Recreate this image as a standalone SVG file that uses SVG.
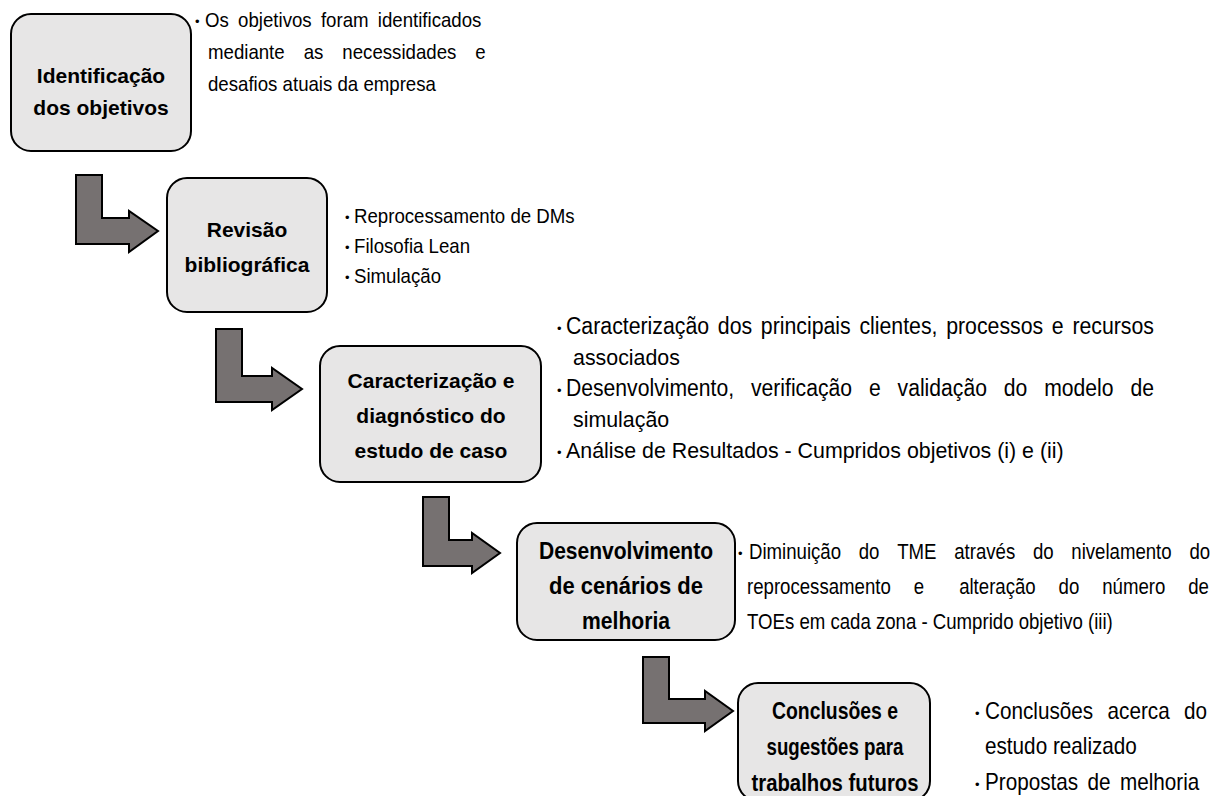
<svg xmlns="http://www.w3.org/2000/svg" width="1215" height="796" viewBox="0 0 1215 796">
  <style>
    .box { fill: #e7e6e6; stroke: #000; stroke-width: 2; }
    .arrow { fill: #767171; stroke: #000; stroke-width: 2; stroke-linejoin: miter; }
    .lbl { font-family: "Liberation Sans", Arial, sans-serif; font-weight: bold; font-size: 21px; text-anchor: middle; fill: #000; }
    .lbln { font-family: "Liberation Sans", Arial, sans-serif; font-weight: bold; font-size: 24px; text-anchor: middle; fill: #000; }
    .t1 { font-family: "Liberation Sans", Arial, sans-serif; font-size: 20.5px; fill: #000; }
    .t3 { font-family: "Liberation Sans", Arial, sans-serif; font-size: 23px; fill: #000; }
    .bul { font-family: "Liberation Sans", Arial, sans-serif; font-size: 13px; fill: #000; }
  </style>

  <!-- step arrows -->
  <g id="connectors">
    <polygon class="arrow" points="76,175 102,175 102,218 129,218 129,211 158,231 129,252 129,244 76,244"/>
    <polygon class="arrow" points="216,329 242,329 242,376 272,376 272,368 302,389 272,410 272,402 216,402"/>
    <polygon class="arrow" points="423,497 449,497 449,540 472,540 472,533 500,553 472,573 472,566 423,566"/>
    <polygon class="arrow" points="643,657 669,657 669,699 705,699 705,691 733,711 705,731 705,723 643,723"/>
  </g>

  <!-- step 1 -->
  <g id="identificacao">
    <rect class="box" x="11" y="14" width="180" height="137" rx="20"/>
    <text class="lbl" x="101" y="83">Identificação</text>
    <text class="lbl" x="101" y="115">dos objetivos</text>
    <text class="bul" x="195" y="26">•</text>
    <text class="t1" transform="translate(205,27) scale(0.91,1)" word-spacing="4.5">Os objetivos foram identificados</text>
    <text class="t1" transform="translate(208,59) scale(0.91,1)" word-spacing="15.2">mediante as necessidades e</text>
    <text class="t1" transform="translate(208,91) scale(0.91,1)">desafios atuais da empresa</text>
  </g>

  <!-- step 2 -->
  <g id="revisao">
    <rect class="box" x="167" y="178" width="160" height="134" rx="20"/>
    <text class="lbl" x="247" y="237">Revisão</text>
    <text class="lbl" x="247" y="272">bibliográfica</text>
    <text class="bul" x="345" y="222">•</text>
    <text class="t1" transform="translate(354,223) scale(0.91,1)">Reprocessamento de DMs</text>
    <text class="bul" x="345" y="252">•</text>
    <text class="t1" transform="translate(354,253) scale(0.91,1)">Filosofia Lean</text>
    <text class="bul" x="345" y="282">•</text>
    <text class="t1" transform="translate(354,283) scale(0.91,1)">Simulação</text>
  </g>

  <!-- step 3 -->
  <g id="caracterizacao">
    <rect class="box" x="320" y="346" width="221" height="136" rx="20"/>
    <text class="lbl" x="431" y="388">Caracterização e</text>
    <text class="lbl" x="431" y="423">diagnóstico do</text>
    <text class="lbl" x="431" y="458">estudo de caso</text>
    <text class="bul" x="557" y="333">•</text>
    <text class="t3" x="566" y="334" textLength="588" lengthAdjust="spacingAndGlyphs" word-spacing="3">Caracterização dos principais clientes, processos e recursos</text>
    <text class="t3" transform="translate(573,365) scale(0.93,1)">associados</text>
    <text class="bul" x="557" y="395">•</text>
    <text class="t3" x="566" y="396" textLength="588" lengthAdjust="spacingAndGlyphs" word-spacing="12">Desenvolvimento, verificação e validação do modelo de</text>
    <text class="t3" transform="translate(573,427) scale(0.93,1)">simulação</text>
    <text class="bul" x="557" y="457">•</text>
    <text class="t3" transform="translate(566,458) scale(0.93,1)">Análise de Resultados - Cumpridos objetivos (i) e (ii)</text>
  </g>

  <!-- step 4 -->
  <g id="desenvolvimento">
    <rect class="box" x="517" y="523" width="218" height="117" rx="20"/>
    <text class="lbln" x="626" y="559" textLength="174" lengthAdjust="spacingAndGlyphs">Desenvolvimento</text>
    <text class="lbln" x="626" y="594" textLength="154" lengthAdjust="spacingAndGlyphs">de cenários de</text>
    <text class="lbln" x="626" y="629" textLength="88" lengthAdjust="spacingAndGlyphs">melhoria</text>
    <text class="bul" x="738" y="558">•</text>
    <!-- justified lines: words placed one by one inside a narrowed text run -->
    <text class="t3" transform="translate(749,559) scale(0.81,1)"><tspan x="0">Diminuição</tspan><tspan x="135.5">do</tspan><tspan x="182.9">TME</tspan><tspan x="253.3">através</tspan><tspan x="350.5">do</tspan><tspan x="397.9">nivelamento</tspan><tspan x="543.7">do</tspan></text>
    <text class="t3" transform="translate(747,594) scale(0.81,1)"><tspan x="0">reprocessamento</tspan><tspan x="205.9">e</tspan><tspan x="261.9">alteração</tspan><tspan x="384.7">do</tspan><tspan x="438.5">número</tspan><tspan x="544.7">de</tspan></text>
    <text class="t3" transform="translate(747,629) scale(0.81,1)">TOEs em cada zona - Cumprido objetivo (iii)</text>
  </g>

  <!-- step 5 -->
  <g id="conclusoes">
    <rect class="box" x="738" y="683" width="192" height="118" rx="20"/>
    <text class="lbln" x="835" y="719" textLength="126" lengthAdjust="spacingAndGlyphs">Conclusões e</text>
    <text class="lbln" x="835" y="755" textLength="137" lengthAdjust="spacingAndGlyphs">sugestões para</text>
    <text class="lbln" x="835" y="791" textLength="167" lengthAdjust="spacingAndGlyphs">trabalhos futuros</text>
    <text class="bul" x="975" y="718">•</text>
    <text class="t3" transform="translate(985,719) scale(0.9,1)"><tspan x="0">Conclusões</tspan><tspan x="136.2">acerca</tspan><tspan x="221.1">do</tspan></text>
    <text class="t3" transform="translate(985,754) scale(0.9,1)">estudo realizado</text>
    <text class="bul" x="975" y="789">•</text>
    <text class="t3" transform="translate(985,790) scale(0.9,1)" word-spacing="4">Propostas de melhoria</text>
  </g>
</svg>
